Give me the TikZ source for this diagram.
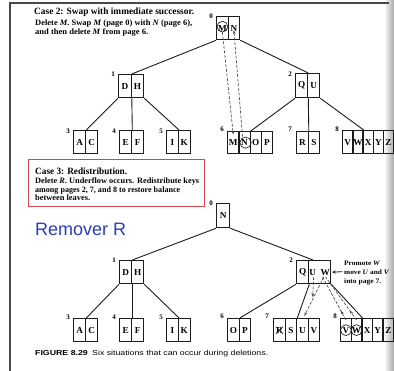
\documentclass[tikz,border=0pt]{standalone}
\usepackage{fontspec}
\usepackage{graphicx}
\setmainfont{Liberation Serif}
\newfontfamily\capsans{Liberation Sans}
\usetikzlibrary{calc,arrows.meta,decorations.markings}

\definecolor{ink}{RGB}{28,28,28}
\definecolor{boxred}{RGB}{214,70,76}
\definecolor{slideblue}{RGB}{44,62,178}

% set a line of text to a given width, keeping its height
\newcommand\fitline[2]{\resizebox{#1pt}{\height}{#2}}

\tikzset{
  cell/.style={draw=ink, line width=1.3pt, inner sep=0pt, anchor=north west,
    font=\bfseries\fontsize{9.2}{10}\selectfont},
  pagenum/.style={font=\bfseries\fontsize{7}{7}\selectfont, inner sep=0pt, anchor=east},
  treeedge/.style={draw=ink, line width=0.9pt},
  moveline/.style={draw=ink!80, line width=0.65pt, dash pattern=on 3pt off 1.6pt},
  movearrow/.style={moveline, -{Stealth[length=3.8pt,width=2.8pt]}},
  upmark/.style={moveline, postaction={decorate},
    decoration={markings, mark=at position 0.22 with {\arrow{Stealth[length=3.8pt,width=2.8pt]}}}},
  keyring/.style={draw=ink, line width=0.65pt},
  bodytext/.style={anchor=base west, inner sep=0pt, font=\bfseries\fontsize{8.2}{9}\selectfont},
  headtext/.style={anchor=base west, inner sep=0pt, font=\bfseries\fontsize{9.6}{10}\selectfont},
  notetext/.style={anchor=base west, inner sep=0pt, font=\bfseries\fontsize{6.8}{7}\selectfont},
}

% one page of the B-tree: name, left x, top y, cell width, cell height, keys
\newcommand\pagecells[6]{%
  \foreach \ltr [count=\i] in {#6}{%
    \node[cell, minimum width=#4pt, minimum height=#5pt] (#1-\i) at ({#2+(\i-1)*#4},#3) {\ltr};
  }%
}

\begin{document}
\begin{tikzpicture}[x=1pt, y=-1pt]
\useasboundingbox (0,0) rectangle (394,371);
\fill[white] (0,0) rectangle (394,371);
\shade[left color=white, right color=black!35] (384,0) rectangle (394,371);

% page frame
\draw[ink!80, line width=1.1pt] (10,371) -- (10,3) -- (389,3);

% ---------- Case 2 ----------
\node[headtext] (c2a) at (34,15) {\fitline{160}{Case 2: Swap with immediate successor.}};
\node[bodytext] (c2b) at (35,26) {\fitline{157}{Delete \textit{M}. Swap \textit{M} (page 0) with \textit{N} (page 6),}};
\node[bodytext] (c2c) at (35,34.5) {\fitline{113}{and then delete \textit{M} from page 6.}};

\pagecells{t0}{216}{16}{11.5}{23}{M,N}
\pagecells{t1}{118}{74}{12.5}{23}{D,H}
\pagecells{t2}{295}{73}{12}{24}{Q,U}
\pagecells{t3}{73}{130}{12}{23}{A,C}
\pagecells{t4}{119}{130}{12}{23}{E,F}
\pagecells{t5}{166}{130}{11.75}{23}{I,K}
\pagecells{t6}{227}{131}{11.25}{22}{M,N,O,P}
\pagecells{t7}{296}{131}{11.5}{22}{R,S}
\pagecells{t8}{342}{130}{10.2}{23}{V,W,X,Y,Z}

\node[pagenum] (nt0) at ($(t0-1.north west)+(-3,0)$) {0};
\node[pagenum] (nt1) at ($(t1-1.north west)+(-3,0)$) {1};
\node[pagenum] (nt2) at ($(t2-1.north west)+(-3,1)$) {2};
\node[pagenum] (nt3) at ($(t3-1.north west)+(-3,1)$) {3};
\node[pagenum] (nt4) at ($(t4-1.north west)+(-3,1)$) {4};
\node[pagenum] (nt5) at ($(t5-1.north west)+(-3,1)$) {5};
\node[pagenum] (nt6) at ($(t6-1.north west)+(-3,-2)$) {6};
\node[pagenum] (nt7) at ($(t7-1.north west)+(-4,-2)$) {7};
\node[pagenum] (nt8) at ($(t8-1.north west)+(-3,-1)$) {8};

\draw[treeedge] (t0-1.south west) -- (t1-1.north east);
\draw[treeedge] (t0-2.south east) -- (t2-1.north east);
\draw[treeedge] (t1-1.south west) -- (t3-1.north east);
\draw[treeedge] (t1-1.south east) -- (t4-1.north east);
\draw[treeedge] (t1-2.south east) -- (t5-1.north east);
\draw[treeedge] (t2-1.south west) -- (t6-2.north east);
\draw[treeedge] (t2-1.south east) -- (t7-1.north east);
\draw[treeedge] (t2-2.south east) -- (t8-2.north east);

% swapped keys
\draw[keyring] ($(t0-1.center)+(0,-1.5)$) circle (5.4pt);
\draw[keyring] ($(t6-2.center)+(1,0)$) circle (5.6pt);
\draw[movearrow] ($(t0-1.center)+(0,4)$) -- ($(t6-1.north)+(0,3.5)$);
\draw[movearrow] ($(t6-2.center)+(-2,-6)$) -- ($(t0-2.center)+(0,2)$);

% ---------- Case 3 ----------
\draw[boxred, line width=1pt] (28,160) rectangle (204,207);
\node[headtext] (c3a) at (35,175) {\fitline{92}{Case 3: Redistribution.}};
\node[bodytext] (c3b) at (35,184) {\fitline{164}{Delete \textit{R}. Underflow occurs. Redistribute keys}};
\node[bodytext] (c3c) at (35,192.5) {\fitline{145}{among pages 2, 7, and 8 to restore balance}};
\node[bodytext] (c3d) at (35,201) {\fitline{55}{between leaves.}};

\node[anchor=base west, inner sep=0pt, text=slideblue, font=\capsans\fontsize{18}{18}\selectfont]
  (rem) at (35,236) {Remover R};

\pagecells{b0}{216}{203}{13}{24}{N}
\pagecells{b1}{119}{260}{12}{23}{D,H}
\node[cell, minimum width=12pt, minimum height=23pt] (b2-1) at (296,260) {Q};
\node[cell, minimum width=22pt, minimum height=23pt] (b2-2) at (308,260) {U\enspace W};
\pagecells{b3}{73}{318}{12}{23}{A,C}
\pagecells{b4}{119}{318}{12}{23}{E,F}
\pagecells{b5}{166}{318}{11.75}{23}{I,K}
\pagecells{b6}{227}{318}{11.5}{23}{O,P}
\pagecells{b7}{273}{318}{11.5}{23}{R,S,U,V}
\pagecells{b8}{340}{318}{10.6}{23}{V,W,X,Y,Z}

\node[pagenum] (nb0) at ($(b0-1.north west)+(-3,0)$) {0};
\node[pagenum] (nb1) at ($(b1-1.north west)+(-3,0)$) {1};
\node[pagenum] (nb2) at ($(b2-1.north west)+(-3,0)$) {2};
\node[pagenum] (nb3) at ($(b3-1.north west)+(-3,-1)$) {3};
\node[pagenum] (nb4) at ($(b4-1.north west)+(-3,-1)$) {4};
\node[pagenum] (nb5) at ($(b5-1.north west)+(-3,-1)$) {5};
\node[pagenum] (nb6) at ($(b6-1.north west)+(-3,-2)$) {6};
\node[pagenum] (nb7) at ($(b7-1.north west)+(-4,-2)$) {7};
\node[pagenum] (nb8) at ($(b8-1.north west)+(-3,-2)$) {8};

\draw[treeedge] (b0-1.south west) -- (b1-1.north east);
\draw[treeedge] (b0-1.south east) -- ($(b2-2.north west)+(5,0)$);
\draw[treeedge] (b1-1.south west) -- (b3-1.north east);
\draw[treeedge] (b1-1.south east) -- (b4-1.north east);
\draw[treeedge] (b1-2.south east) -- (b5-1.north east);
\draw[treeedge] (b2-1.south west) -- (b6-1.north east);
\draw[treeedge] (b2-1.south east) -- (b7-2.north east);
\draw[treeedge] (b2-2.south east) -- (b8-2.north east);

% deleted key and moved keys
\draw[ink, line width=0.7pt] ($(b7-1.center)+(-3.5,-3.5)$) -- ($(b7-1.center)+(3.5,3.5)$);
\draw[ink, line width=0.7pt] ($(b7-1.center)+(-3.5,3.5)$) -- ($(b7-1.center)+(3.5,-3.5)$);
\draw[keyring] (b8-1.center) circle (5.4pt);
\draw[keyring] (b8-2.center) circle (5.4pt);
\draw[movearrow] ($(b2-2.center)+(-6,5)$) -- ($(b2-2.center)+(-7,25)$);
\draw[movearrow] ($(b2-2.center)+(4,5)$) -- ($(b7-3.north)+(2,-2)$);
\draw[upmark] ($(b8-1.north)+(0,2)$) -- ($(b2-2.center)+(3,5)$);
\draw[upmark] ($(b8-2.north)+(0,2)$) -- ($(b2-2.center)+(6,5)$);

\node[notetext] (promo) at (344,265.5) {\fitline{36}{Promote \textit{W}}};
\node[notetext] (promo2) at (344,275) {\fitline{45}{move \textit{U} and \textit{V}}};
\node[notetext] (promo3) at (344,284) {\fitline{37}{into page 7.}};
\draw[ink, line width=0.8pt, -{Stealth[length=3.8pt,width=3.2pt]}] ($(promo2.west)+(-1.5,-1)$) -- ($(b2-2.east)+(0.7,0)$);

% caption
\node[anchor=base west, inner sep=0pt, font=\capsans\fontsize{7.2}{8}\selectfont]
  (cap) at (35,356) {\fitline{233}{\textbf{FIGURE 8.29}\enspace Six situations that can occur during deletions.}};
\end{tikzpicture}
\end{document}
